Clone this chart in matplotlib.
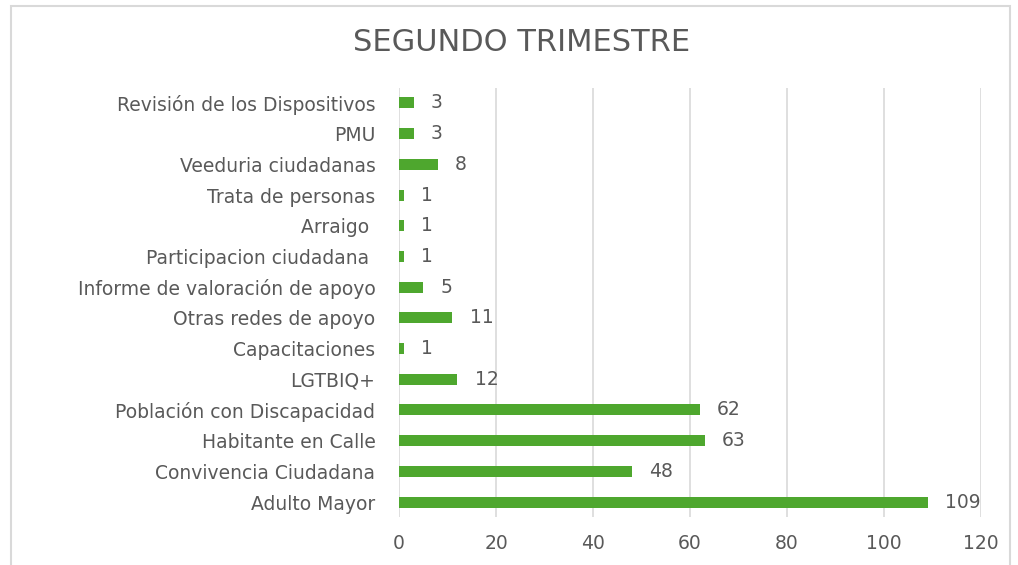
import matplotlib.pyplot as plt
from matplotlib.patches import Rectangle

# data, bottom to top as in the chart
categorias = ['Adulto Mayor', 'Convivencia Ciudadana', 'Habitante en Calle',
              'Población con Discapacidad', 'LGTBIQ+', 'Capacitaciones',
              'Otras redes de apoyo', 'Informe de valoración de apoyo',
              'Participacion ciudadana ', 'Arraigo ', 'Trata de personas',
              'Veeduria ciudadanas', 'PMU', 'Revisión de los Dispositivos']
valores = [109, 48, 63, 62, 12, 1, 11, 5, 1, 1, 1, 8, 3, 3]
ticks_x = [0, 20, 40, 60, 80, 100, 120]

verde = '#4EA72E'
gris_texto = '#595959'
gris_grid = '#D9D9D9'

plt.rcParams['font.family'] = ['DejaVu Sans']

fig = plt.figure(figsize=(10.18, 5.65), dpi=100)
ax = fig.add_axes([0.392, 0.0842, 0.5717, 0.7608])

pos = range(len(categorias))
ax.barh(pos, valores, height=0.36, color=verde, zorder=3)

for y, v in zip(pos, valores):
    ax.annotate(str(v), (v, y), xytext=(12.5, 0), textcoords='offset points',
                ha='left', va='center', fontsize=13.5, color=gris_texto)

ax.set_xlim(0, 120)
ax.set_ylim(-0.5, len(categorias) - 0.5)
ax.set_xticks(ticks_x)
ax.set_yticks(list(pos))
ax.set_yticklabels(categorias)
ax.tick_params(axis='both', length=0, labelsize=13.5, labelcolor=gris_texto)
ax.tick_params(axis='x', pad=12)
ax.tick_params(axis='y', pad=17)
ax.grid(axis='x', color=gris_grid, linewidth=1.2, zorder=0)
for s in ax.spines.values():
    s.set_visible(False)

fig.text(0.512, 0.925, 'SEGUNDO TRIMESTRE', ha='center', va='center',
         fontsize=22, color=gris_texto)

# chart border
fig.patches.append(Rectangle((11 / 1018, -0.01), 999 / 1018, 1 - 6 / 565 + 0.01,
                             transform=fig.transFigure, fill=False,
                             edgecolor=gris_grid, linewidth=1.5))

fig.savefig('out.png', dpi=100, facecolor='white')
